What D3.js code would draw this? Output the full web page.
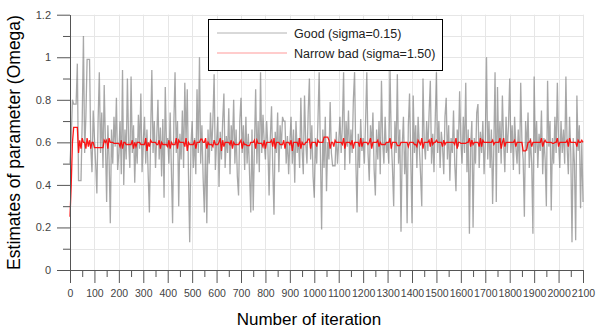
<!DOCTYPE html>
<html>
<head>
<meta charset="utf-8">
<script src="https://cdn.jsdelivr.net/npm/d3@7"></script>
<style>
  html, body { margin: 0; padding: 0; background: #fff; }
  svg { display: block; font-family: Arial, "Liberation Sans", sans-serif; }
</style>
</head>
<body>
<svg id="chart" width="600" height="333"></svg>
<script>
// ---- data (sampled every 5 iterations) ----
const iterStep = 5;
const xTicks = [0,100,200,300,400,500,600,700,800,900,1000,1100,1200,1300,1400,1500,1600,1700,1800,1900,2000,2100];
const yTicks = [0,0.2,0.4,0.6,0.8,1,1.2];
const seriesNames = ["Good (sigma=0.15)", "Narrow bad (sigma=1.50)"];

const goodValues = [
 0.5,0.62,0.8,0.78,0.78,0.78,0.97,0.42,0.42,0.42,0.7,1.1,0.55,0.72,0.99,0.99,0.99,0.58,0.46,0.75,
 0.62,0.5,0.36,0.7,0.93,0.55,0.74,0.48,0.87,0.6,0.32,0.68,0.52,0.22,0.66,0.5,0.72,0.58,0.81,0.47,
 0.55,0.7,0.45,0.94,0.4,0.66,0.52,0.9,0.6,0.48,0.91,0.55,0.68,0.41,0.62,0.5,0.73,0.57,0.83,0.46,
 0.6,0.72,0.5,0.66,0.45,0.27,0.63,0.94,0.55,0.7,0.48,0.62,0.8,0.52,0.67,0.44,0.71,0.34,0.86,0.58,
 0.62,0.5,0.74,0.47,0.22,0.68,0.93,0.55,0.7,0.3,0.64,0.52,0.75,0.48,0.88,0.6,0.85,0.45,0.13,0.58,
 0.7,0.48,0.62,0.45,0.85,0.55,1.0,0.5,0.68,0.43,0.27,0.6,0.22,0.66,0.5,0.74,0.56,0.7,0.92,0.47,
 0.6,0.72,0.39,0.65,0.52,0.7,0.83,0.48,0.63,0.55,0.76,0.45,0.68,0.58,0.8,0.5,0.66,0.44,0.35,0.7,
 0.81,0.55,0.68,0.47,0.72,0.5,0.64,0.45,0.27,0.66,0.28,0.58,0.85,0.5,0.7,0.46,0.93,0.55,0.73,0.6,
 0.52,0.7,0.58,0.35,0.62,0.77,0.48,0.26,0.65,0.55,0.74,0.46,0.68,0.57,0.72,0.7,0.7,0.5,0.63,0.45,
 0.6,0.72,0.5,0.66,0.41,0.7,0.55,0.62,0.48,0.81,0.57,0.45,0.82,0.6,0.5,0.74,0.9,0.52,0.68,0.44,
 0.34,0.62,0.5,0.7,0.93,0.55,0.19,0.66,0.48,0.72,0.37,0.6,0.52,0.79,0.55,0.49,0.49,0.49,0.65,0.5,
 0.6,0.72,0.55,0.68,0.93,0.47,0.7,0.58,0.75,0.5,0.66,0.55,0.8,0.93,0.52,0.27,0.64,0.48,0.71,0.56,
 0.62,0.5,0.7,0.93,0.55,0.42,0.68,0.58,0.74,0.47,0.35,0.66,0.52,0.7,0.45,0.89,0.6,0.5,0.72,0.55,
 0.6,0.5,0.94,0.62,0.48,0.3,0.7,0.55,0.92,0.5,0.66,0.18,0.58,0.72,0.45,0.6,0.22,0.68,0.83,0.52,
 0.22,0.82,0.55,0.68,0.48,0.72,0.58,0.45,0.3,0.9,0.6,0.52,0.7,0.56,0.74,0.89,0.5,0.64,0.46,0.7,
 0.93,0.55,0.7,0.48,0.65,0.58,0.45,0.72,0.81,0.52,0.68,0.42,0.62,0.55,0.75,0.5,0.37,0.66,0.58,0.84,
 0.6,0.5,0.72,0.55,0.88,0.46,0.66,0.17,0.58,0.7,0.2,0.62,0.5,0.74,0.78,0.48,0.65,0.55,0.7,0.45,
 0.6,1.0,0.52,0.7,0.48,0.66,0.31,0.58,0.93,0.32,0.86,0.55,0.7,0.5,0.82,0.6,0.46,0.72,0.55,0.68,
 0.9,0.55,0.68,0.47,0.72,0.58,0.5,0.66,0.45,0.88,0.6,0.52,0.25,0.7,0.56,0.74,0.48,0.62,0.5,0.17,
 0.91,0.55,0.7,0.48,0.64,0.56,0.75,0.45,0.62,0.52,0.3,0.89,0.58,0.7,0.28,0.62,0.5,0.72,0.55,0.88,
 0.6,0.48,0.7,0.55,0.66,0.5,0.91,0.58,0.45,0.72,0.55,0.13,0.62,0.5,0.14,0.82,0.56,0.68,0.29,0.6,0.32
];

const narrowBadValues = [
 0.25,0.4,0.6,0.67,0.67,0.67,0.67,0.55,0.61,0.57,0.62,0.6,0.6,0.57,0.62,0.58,0.61,0.57,0.6,0.6,
 0.575,0.575,0.575,0.575,0.575,0.575,0.575,0.575,0.61,0.6,0.61,0.57,0.62,0.6,0.6,0.6,0.595,0.595,0.595,0.595,
 0.595,0.58,0.61,0.57,0.6,0.6,0.59,0.59,0.59,0.59,0.59,0.61,0.57,0.6,0.58,0.6,0.6,0.6,0.59,0.59,
 0.59,0.59,0.62,0.56,0.6,0.58,0.61,0.6,0.6,0.6,0.6,0.59,0.59,0.61,0.57,0.6,0.59,0.59,0.59,0.59,
 0.58,0.61,0.57,0.6,0.59,0.59,0.59,0.62,0.57,0.61,0.6,0.6,0.6,0.6,0.58,0.62,0.56,0.6,0.59,0.59,
 0.59,0.59,0.61,0.57,0.6,0.6,0.6,0.615,0.615,0.6,0.6,0.62,0.57,0.6,0.59,0.59,0.59,0.58,0.61,0.59,
 0.59,0.59,0.6,0.62,0.56,0.61,0.58,0.6,0.6,0.6,0.6,0.59,0.61,0.57,0.6,0.59,0.59,0.59,0.59,0.6,
 0.61,0.57,0.6,0.59,0.59,0.585,0.585,0.585,0.6,0.6,0.6,0.61,0.57,0.61,0.595,0.595,0.595,0.595,0.58,0.61,
 0.57,0.6,0.6,0.6,0.6,0.61,0.58,0.62,0.57,0.6,0.6,0.6,0.59,0.59,0.59,0.61,0.57,0.6,0.6,0.6,
 0.59,0.61,0.56,0.6,0.6,0.6,0.6,0.58,0.62,0.57,0.6,0.59,0.59,0.6,0.6,0.615,0.615,0.57,0.6,0.6,
 0.6,0.6,0.58,0.61,0.6,0.6,0.6,0.6,0.625,0.625,0.625,0.625,0.61,0.57,0.6,0.6,0.58,0.61,0.6,0.6,
 0.6,0.6,0.6,0.59,0.62,0.57,0.6,0.6,0.6,0.6,0.59,0.61,0.57,0.6,0.6,0.6,0.6,0.58,0.62,0.58,
 0.6,0.6,0.6,0.6,0.59,0.6,0.62,0.57,0.6,0.6,0.6,0.6,0.61,0.58,0.6,0.59,0.59,0.59,0.59,0.6,
 0.6,0.6,0.62,0.57,0.6,0.6,0.6,0.6,0.585,0.585,0.585,0.6,0.6,0.6,0.6,0.6,0.6,0.58,0.6,0.6,
 0.6,0.6,0.59,0.59,0.58,0.61,0.6,0.59,0.62,0.57,0.6,0.6,0.6,0.6,0.61,0.58,0.62,0.59,0.6,0.6,
 0.61,0.6,0.6,0.6,0.6,0.58,0.61,0.59,0.6,0.6,0.6,0.6,0.6,0.6,0.6,0.59,0.62,0.57,0.6,0.6,
 0.595,0.595,0.595,0.595,0.595,0.6,0.6,0.62,0.58,0.61,0.59,0.6,0.6,0.6,0.6,0.58,0.62,0.58,0.61,0.6,
 0.6,0.6,0.6,0.6,0.6,0.6,0.61,0.59,0.6,0.6,0.6,0.6,0.62,0.57,0.6,0.62,0.58,0.6,0.6,0.6,
 0.6,0.6,0.6,0.6,0.61,0.58,0.6,0.6,0.6,0.6,0.6,0.56,0.56,0.56,0.57,0.6,0.6,0.61,0.58,0.6,
 0.6,0.6,0.6,0.6,0.6,0.6,0.62,0.58,0.6,0.61,0.6,0.6,0.6,0.6,0.6,0.595,0.595,0.6,0.6,0.62,
 0.58,0.6,0.6,0.6,0.6,0.6,0.6,0.61,0.58,0.62,0.6,0.6,0.6,0.6,0.6,0.58,0.61,0.6,0.6,0.61,0.6
];

// ---- chart ----
const svg = d3.select("#chart");
const x = d3.scaleLinear().domain([0, 2100]).range([70, 583]);
const y = d3.scaleLinear().domain([0, 1.2]).range([270, 14.7]);

const axisColor = "#555";
const labelColor = "#444";

// grid
const grid = svg.append("g").attr("class", "grid");
grid.selectAll("line.h").data(d3.range(1, 13).map(i => i / 10)).join("line")
  .attr("x1", x(0)).attr("x2", x(2100))
  .attr("y1", d => Math.round(y(d)) + 0.5).attr("y2", d => Math.round(y(d)) + 0.5)
  .attr("stroke", "#e6e6e6").attr("stroke-width", 1);
grid.selectAll("line.v").data(xTicks.slice(1)).join("line")
  .attr("x1", d => Math.round(x(d)) + 0.5).attr("x2", d => Math.round(x(d)) + 0.5)
  .attr("y1", y(0)).attr("y2", y(1.2))
  .attr("stroke", "#e6e6e6").attr("stroke-width", 1);

// series
const line = d3.line().x((d, i) => x(i * iterStep)).y(d => y(d));
svg.append("path").datum(goodValues)
  .attr("d", line).attr("fill", "none")
  .attr("stroke", "#6e6e6e").attr("stroke-opacity", 0.6).attr("stroke-width", 1.3);
svg.append("path").datum(narrowBadValues)
  .attr("d", line).attr("fill", "none")
  .attr("stroke", "#ff0000").attr("stroke-opacity", 0.9).attr("stroke-width", 1.3);

// axes
const xMajor = d3.axisBottom(x).tickValues(xTicks).tickSize(13).tickPadding(7).tickSizeOuter(0).tickFormat(d3.format("d"));
const xMinor = d3.axisBottom(x).tickValues(d3.range(50, 2100, 100)).tickSize(7).tickSizeOuter(0).tickFormat("");
const yMajor = d3.axisLeft(y).tickValues(yTicks).tickSize(13).tickPadding(6).tickSizeOuter(0).tickFormat(d => d === 0 || d === 1 ? String(d) : d3.format(".1f")(d));
const yMinor = d3.axisLeft(y).tickValues([0.1,0.3,0.5,0.7,0.9,1.1]).tickSize(7).tickSizeOuter(0).tickFormat("");

function styleAxis(g) {
  g.selectAll("path, line").attr("stroke", axisColor);
  g.selectAll("text").attr("fill", labelColor).style("font-family", "Arial, 'Liberation Sans', sans-serif");
}
svg.append("g").attr("transform", "translate(0,270)").call(xMinor).call(styleAxis);
svg.append("g").attr("transform", "translate(0,270)").call(xMajor).call(styleAxis)
  .selectAll("text").style("font-size", "10.5px");
svg.append("g").attr("transform", "translate(70,0)").call(yMinor).call(styleAxis);
svg.append("g").attr("transform", "translate(70,0)").call(yMajor).call(styleAxis)
  .selectAll("text").style("font-size", "11px");

// axis titles
svg.append("text").attr("x", 309).attr("y", 325).attr("text-anchor", "middle")
  .style("font-size", "17px").attr("fill", "#000").text("Number of iteration");
svg.append("text").attr("transform", "translate(20,142.5) rotate(-90)").attr("text-anchor", "middle")
  .style("font-size", "17.5px").attr("fill", "#000").text("Estimates of parameter (Omega)");

// legend
const lg = svg.append("g");
lg.append("rect").attr("x", 208.5).attr("y", 19.5).attr("width", 234).attr("height", 51)
  .attr("fill", "#fff").attr("stroke", "#000").attr("stroke-width", 1);
const legendStyles = [
  { stroke: "#808080", op: 0.6 },
  { stroke: "#ff0000", op: 0.4 }
];
seriesNames.forEach((name, i) => {
  const yy = 33 + i * 20;
  lg.append("line").attr("x1", 217).attr("x2", 287).attr("y1", yy).attr("y2", yy)
    .attr("stroke", legendStyles[i].stroke).attr("stroke-opacity", legendStyles[i].op).attr("stroke-width", 1);
  lg.append("text").attr("x", 294).attr("y", yy + 4.5)
    .style("font-size", "12.5px").attr("fill", "#222").text(name);
});
</script>
</body>
</html>
